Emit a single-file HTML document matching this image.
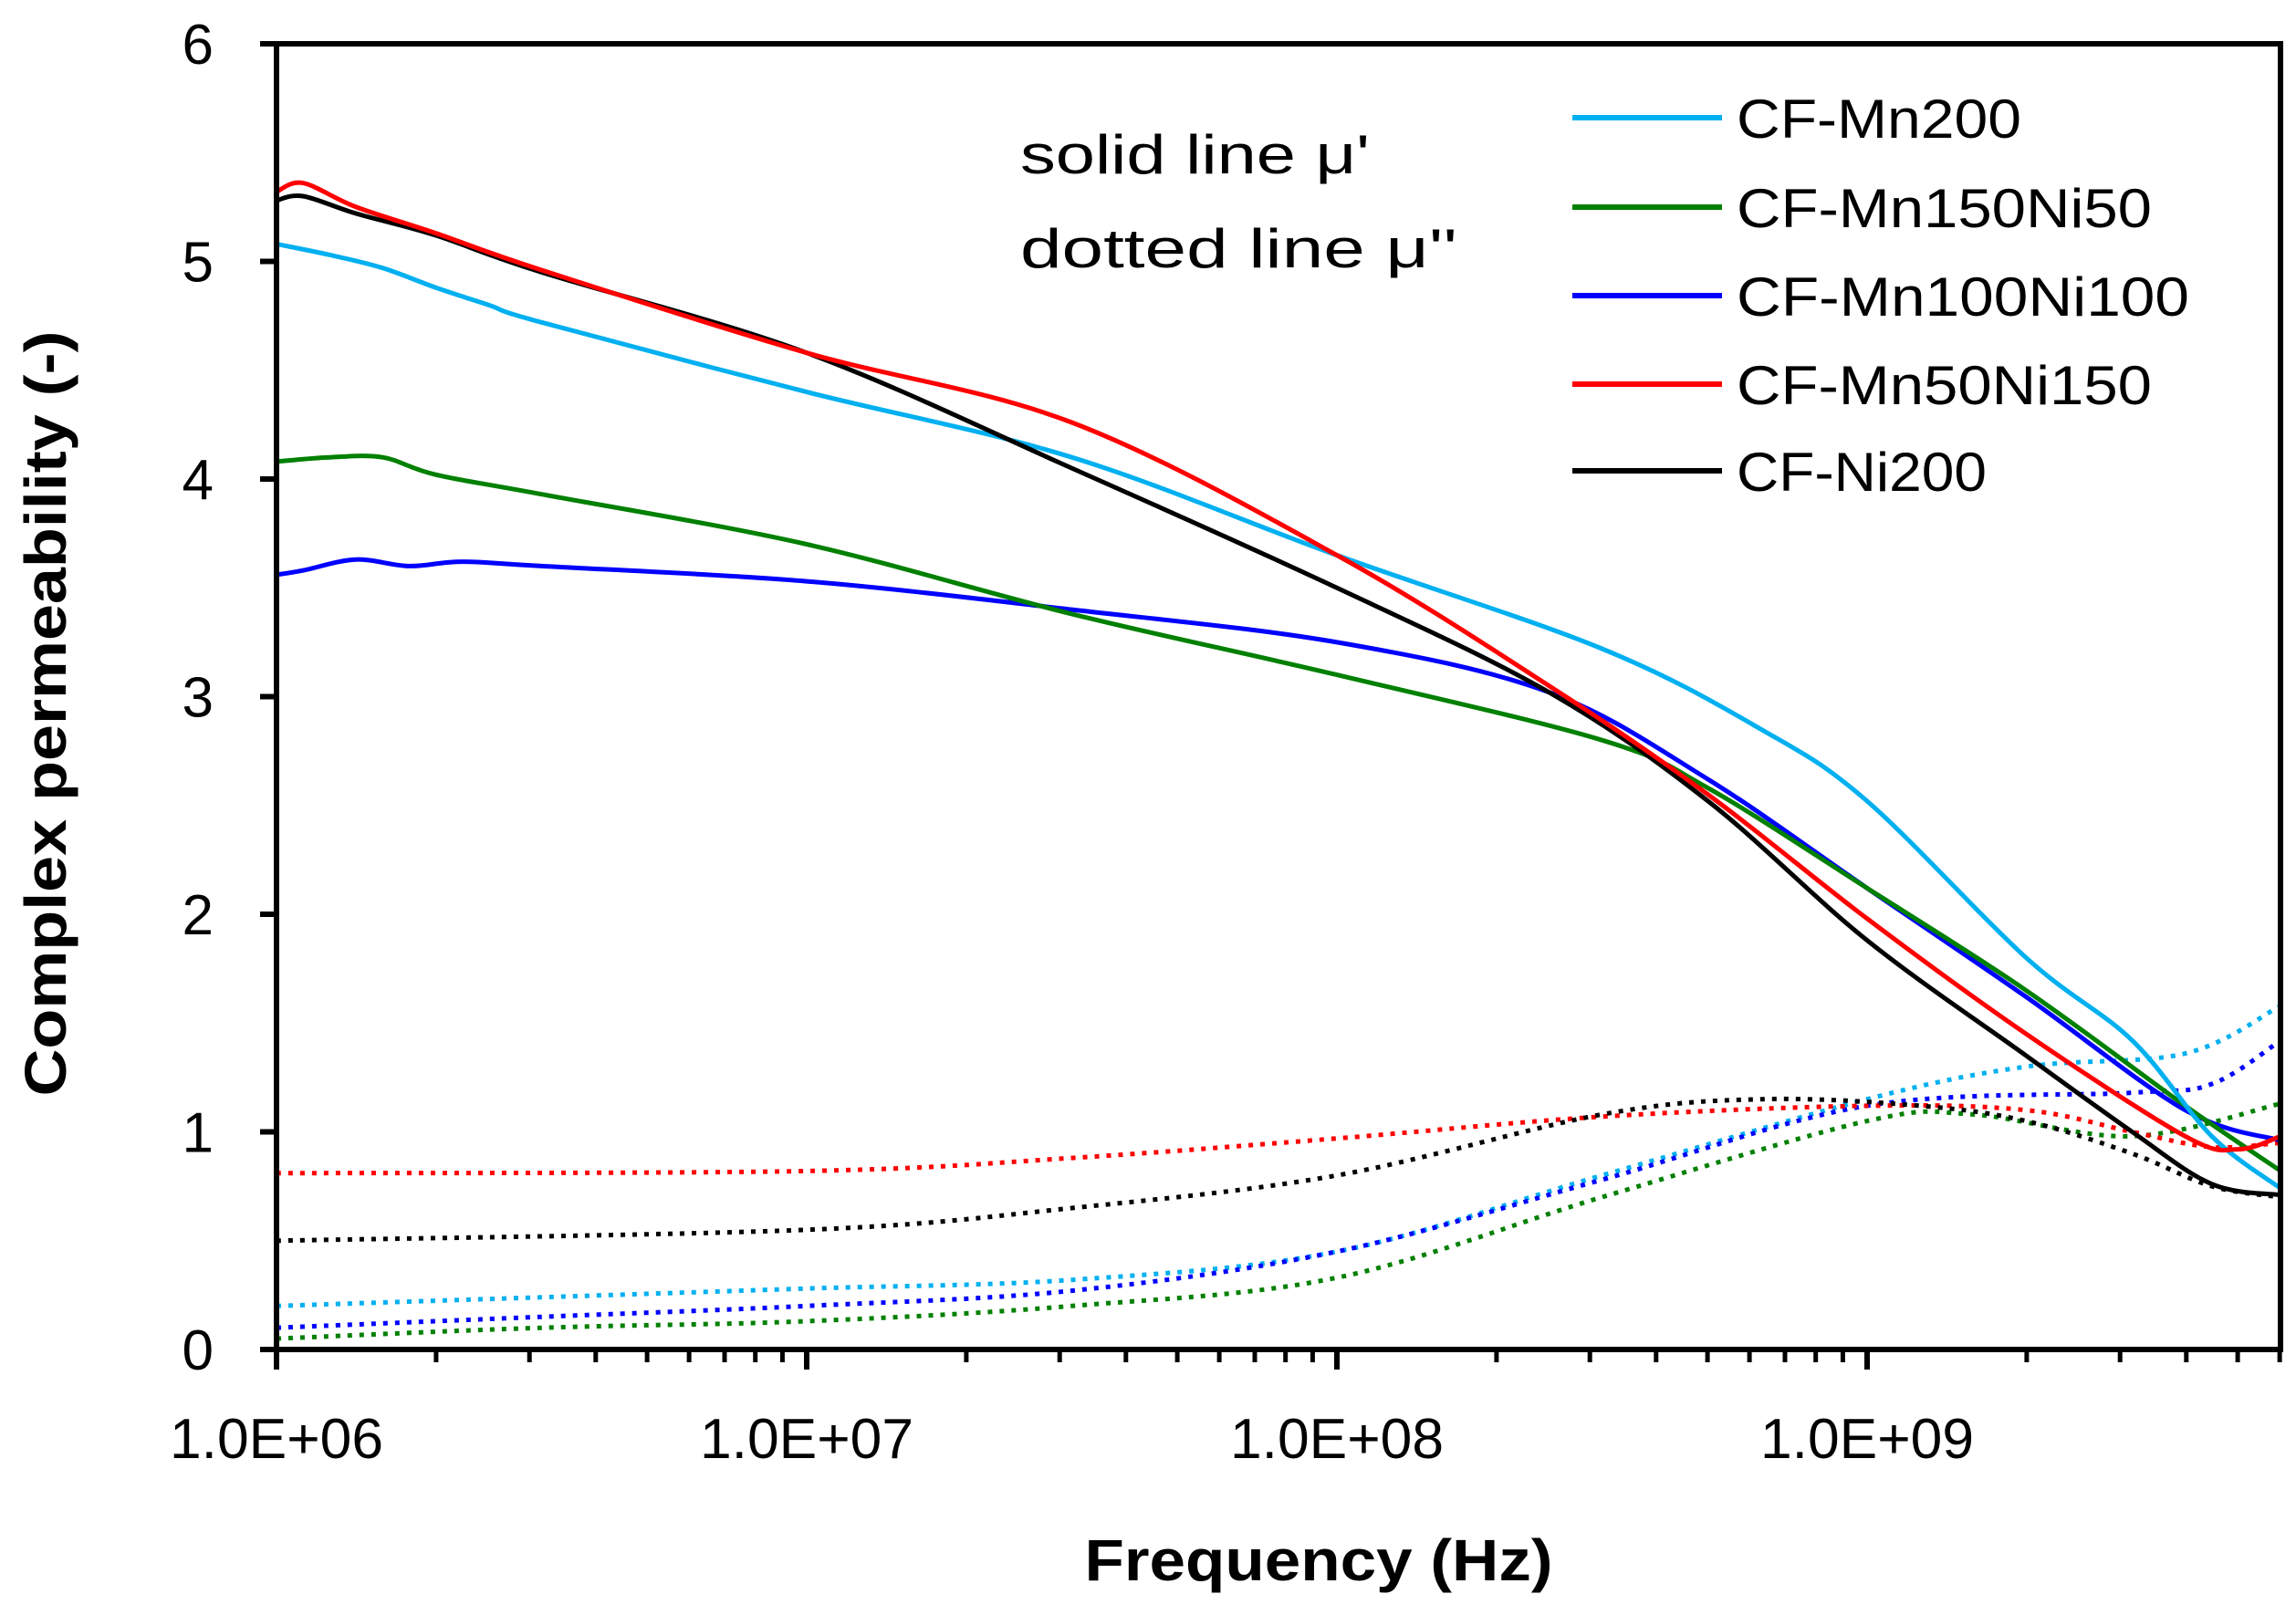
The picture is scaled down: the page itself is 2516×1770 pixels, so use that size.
<!DOCTYPE html>
<html><head><meta charset="utf-8">
<style>
html,body{margin:0;padding:0;background:#fff;}
svg{display:block;}
text{font-family:"Liberation Sans",sans-serif;fill:#000;}
</style></head>
<body>
<svg id="chart" width="2516" height="1770" viewBox="0 0 2516 1770" xmlns="http://www.w3.org/2000/svg">
<g id="plot"></g>
<g id="axes"></g>
<text x="0" y="0" transform="translate(72,782) rotate(-90)" text-anchor="middle" font-weight="bold" font-size="64" textLength="839" lengthAdjust="spacingAndGlyphs">Complex permeability (-)</text>
<text x="1445" y="1732" text-anchor="middle" font-weight="bold" font-size="64" textLength="513" lengthAdjust="spacingAndGlyphs">Frequency (Hz)</text>
<text x="1118" y="190" font-size="60" textLength="383" lengthAdjust="spacingAndGlyphs">solid line μ'</text>
<text x="1118" y="293" font-size="60" textLength="479" lengthAdjust="spacingAndGlyphs">dotted line μ''</text>
<g id="legend"></g>
</svg>
<script>
// ---- data (x = log10 frequency) ----
const seriesNames = ["CF-Mn200","CF-Mn150Ni50","CF-Mn100Ni100","CF-Mn50Ni150","CF-Ni200"];
const seriesColors = ["#00b0f0","#008000","#0000ff","#ff0000","#000000"];
const yTicks = [0,1,2,3,4,5,6];
const xTickLabels = ["1.0E+06","1.0E+07","1.0E+08","1.0E+09"];
const xTickLogs = [6,7,8,9];

const mn200X = [6.0,6.1,6.2,6.3,6.4,6.5,7.0,7.5,8.0,8.5,8.8,9.0,9.3,9.5,9.65,9.78];
const mn200Y = [5.08,5.03,4.97,4.88,4.8,4.72,4.4,4.1,3.65,3.22,2.85,2.52,1.8,1.42,0.98,0.74];
const mn150X = [6.0,6.1,6.2,6.3,6.5,7.0,7.5,8.0,8.5,8.7,9.0,9.3,9.6,9.78];
const mn150Y = [4.08,4.1,4.1,4.02,3.93,3.7,3.38,3.1,2.8,2.58,2.12,1.65,1.12,0.82];
const mn100X = [6.0,6.05,6.15,6.25,6.35,6.5,7.0,7.5,8.0,8.4,8.7,9.0,9.3,9.6,9.78];
const mn100Y = [3.56,3.58,3.63,3.6,3.62,3.6,3.53,3.4,3.25,3.02,2.62,2.12,1.62,1.1,0.96];
const mn50X = [6.0,6.05,6.15,6.3,6.5,7.0,7.5,8.0,8.4,8.7,9.0,9.3,9.6,9.7,9.78];
const mn50Y = [5.32,5.36,5.25,5.13,4.96,4.58,4.26,3.65,3.05,2.55,1.98,1.45,0.98,0.92,0.98];
const ni200X = [6.0,6.05,6.15,6.3,6.5,7.0,7.5,8.0,8.4,8.7,9.0,9.3,9.5,9.65,9.78];
const ni200Y = [5.28,5.3,5.22,5.12,4.95,4.58,4.05,3.5,3.02,2.52,1.88,1.35,1.0,0.76,0.71];

const mn200dX = [6.0,6.5,7.0,7.5,8.0,8.5,9.0,9.3,9.6,9.78];
const mn200dY = [0.2,0.24,0.28,0.32,0.45,0.8,1.15,1.3,1.36,1.58];
const mn150dX = [6.0,6.5,7.0,7.5,8.0,8.5,9.0,9.2,9.5,9.78];
const mn150dY = [0.05,0.1,0.13,0.2,0.33,0.7,1.05,1.08,0.98,1.13];
const mn100dX = [6.0,6.5,7.0,7.5,8.0,8.5,9.0,9.5,9.65,9.78];
const mn100dY = [0.1,0.15,0.2,0.27,0.45,0.78,1.12,1.18,1.22,1.42];
const mn50dX = [6.0,7.0,7.5,8.0,8.5,9.0,9.3,9.5,9.65,9.78];
const mn50dY = [0.81,0.82,0.88,0.97,1.07,1.12,1.1,1.0,0.93,0.95];
const ni200dX = [6.0,7.0,7.5,8.0,8.5,8.8,9.1,9.3,9.5,9.65,9.78];
const ni200dY = [0.5,0.55,0.65,0.8,1.08,1.15,1.12,1.05,0.9,0.75,0.7];

const solidX = [mn200X,mn150X,mn100X,mn50X,ni200X];
const solidY = [mn200Y,mn150Y,mn100Y,mn50Y,ni200Y];
const dotX = [mn200dX,mn150dX,mn100dX,mn50dX,ni200dX];
const dotY = [mn200dY,mn150dY,mn100dY,mn50dY,ni200dY];

// ---- scales ----
const L=303,R=2499,T=48,B=1479;
const xMin=6, xMax=6+(R-L)/581;
function xs(v){return L+(v-xMin)/(xMax-xMin)*(R-L);}
function ys(v){return B-(v/6)*(B-T);}
const NS="http://www.w3.org/2000/svg";
function mk(tag,attrs,parent){const e=document.createElementNS(NS,tag);for(const k in attrs)e.setAttribute(k,attrs[k]);parent.appendChild(e);return e;}

function smoothPath(xa,ya){
  const p=xa.map((x,i)=>[xs(x),ys(ya[i])]);
  let d="M"+p[0][0].toFixed(1)+","+p[0][1].toFixed(1);
  for(let i=0;i<p.length-1;i++){
    const p0=p[i-1]||p[i],p1=p[i],p2=p[i+1],p3=p[i+2]||p2;
    const c1=[p1[0]+(p2[0]-p0[0])/6,p1[1]+(p2[1]-p0[1])/6];
    const c2=[p2[0]-(p3[0]-p1[0])/6,p2[1]-(p3[1]-p1[1])/6];
    d+=" C"+c1[0].toFixed(1)+","+c1[1].toFixed(1)+" "+c2[0].toFixed(1)+","+c2[1].toFixed(1)+" "+p2[0].toFixed(1)+","+p2[1].toFixed(1);
  }
  return d;
}

const plot=document.getElementById("plot");
const clip=mk("clipPath",{id:"pc"},plot);
mk("rect",{x:L,y:T,width:R-L,height:B-T},clip);
const pg=mk("g",{"clip-path":"url(#pc)"},plot);
for(let i=0;i<5;i++){
  const p=mk("path",{d:smoothPath(dotX[i],dotY[i]),fill:"none",stroke:seriesColors[i],"stroke-width":5,"stroke-dasharray":"5 8"},pg);
  
  
}
const order=[2,1,0,4,3];
for(const i of order){
  const p=mk("path",{d:smoothPath(solidX[i],solidY[i]),fill:"none",stroke:seriesColors[i],"stroke-width":5,"stroke-linejoin":"round"},pg);
  
  
}

// ---- axes ----
const ax=document.getElementById("axes");
const frame=mk("rect",{x:L,y:T,width:R-L,height:B-T,fill:"none",stroke:"#000","stroke-width":6},ax);


yTicks.forEach(v=>{
  const y=ys(v);
  const t=mk("line",{x1:L-18,x2:L,y1:y,y2:y,stroke:"#000","stroke-width":6},ax);
  
  
  const tx=mk("text",{x:234,y:y+22,"text-anchor":"end","font-size":62},ax);
  tx.textContent=v;
  
  
});
for(let d=6;d<=9;d++){
  for(let m=1;m<=9;m++){
    const lv=d+Math.log10(m);
    if(lv>xMax+0.001)break;
    const x=xs(lv);
    const len=m===1?22:14;
    const t=mk("line",{x1:x,x2:x,y1:B,y2:B+len,stroke:"#000","stroke-width":m===1?6:5},ax);
    
    
  }
}
xTickLabels.forEach((s,i)=>{
  const tx=mk("text",{x:xs(xTickLogs[i]),y:1598,"text-anchor":"middle","font-size":62,textLength:234,lengthAdjust:"spacingAndGlyphs"},ax);
  tx.textContent=s;
  
  
});

// ---- legend ----
const lg=document.getElementById("legend");
const rowsY=[129,227,324,421,516];
const textW=[312,455,496,455,274];
seriesNames.forEach((n,i)=>{
  const g=mk("g",{},lg);
  
  
  mk("line",{x1:1723,x2:1887,y1:rowsY[i],y2:rowsY[i],stroke:seriesColors[i],"stroke-width":6},g);
  const t=mk("text",{x:1903,y:rowsY[i]+22,"font-size":60,textLength:textW[i],lengthAdjust:"spacingAndGlyphs"},g);
  t.textContent=n;
});
</script>
</body></html>
